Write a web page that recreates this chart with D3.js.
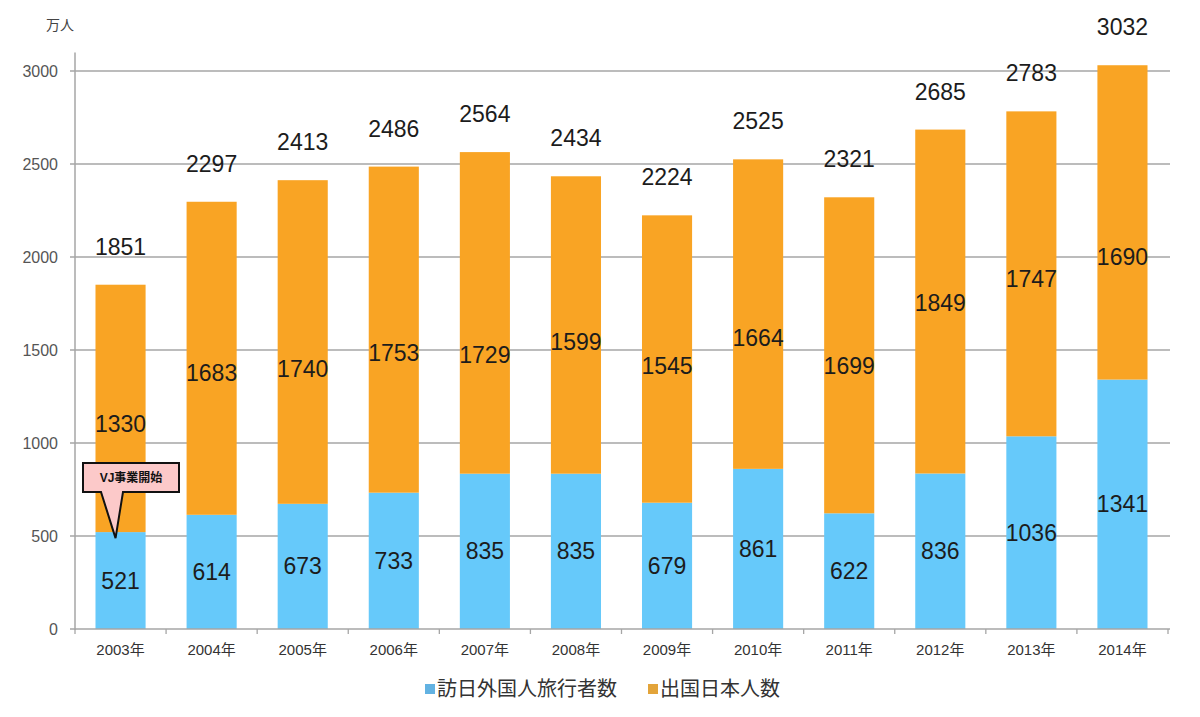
<!DOCTYPE html>
<html lang="ja">
<head>
<meta charset="utf-8">
<script src="https://cdn.jsdelivr.net/npm/d3@7/dist/d3.min.js"></script>
<style type="text/css">
body {
	margin: 0;
	background: #fff;
	font-family: "Liberation Sans", "Noto Sans CJK JP", sans-serif;
}
</style>
</head>
<body>
<script type="text/javascript">

// data
var years = ["2003年","2004年","2005年","2006年","2007年","2008年","2009年","2010年","2011年","2012年","2013年","2014年"];
var visitors = [521, 614, 673, 733, 835, 835, 679, 861, 622, 836, 1036, 1341];     // 訪日外国人旅行者数
var outbound = [1330, 1683, 1740, 1753, 1729, 1599, 1545, 1664, 1699, 1849, 1747, 1690]; // 出国日本人数
var totals = [1851, 2297, 2413, 2486, 2564, 2434, 2224, 2525, 2321, 2685, 2783, 3032];
var yTicks = [0, 500, 1000, 1500, 2000, 2500, 3000];
var seriesNames = ["訪日外国人旅行者数", "出国日本人数"];
// where the orange labels sit (value units, as in the picture)
var outLabelAt = [1102, 1376, 1398, 1484, 1473, 1543, 1414, 1565, 1414, 1753, 1882, 2000];

var width = 1200, height = 717;
var mLeft = 75, mRight = 1168, mTop = 71, mBottom = 629;

var blue = "#66c9fa", orange = "#f9a424";

var svg = d3.select("body").append("svg")
	.attr("width", width)
	.attr("height", height);

var x = d3.scaleBand().domain(years)
	.range([mLeft, mRight])
	.paddingInner(0.45)
	.paddingOuter(0.225);

var y = d3.scaleLinear().domain([0, 3000]).range([mBottom, mTop]);

// grid lines
svg.selectAll("line.grid")
	.data(yTicks.filter(function(d){ return d > 0; }))
	.enter().append("line")
	.attr("class", "grid")
	.attr("x1", mLeft - 5).attr("x2", mRight + 2)
	.attr("y1", function(d){ return y(d); })
	.attr("y2", function(d){ return y(d); })
	.style("stroke", "#a6a6a6")
	.style("stroke-width", 1.3);

// y tick labels
svg.selectAll("text.ytick")
	.data(yTicks)
	.enter().append("text")
	.attr("x", mLeft - 17)
	.attr("y", function(d){ return y(d); })
	.attr("dy", "0.35em")
	.attr("text-anchor", "end")
	.style("font-size", "16px")
	.style("fill", "#555")
	.text(function(d){ return d; });

// unit
svg.append("text")
	.attr("x", 60).attr("y", 25)
	.attr("dy", "0.35em")
	.attr("text-anchor", "middle")
	.style("font-size", "14px")
	.style("fill", "#444")
	.text("万人");

// bars
var g = svg.selectAll("g.bar")
	.data(years)
	.enter().append("g")
	.attr("class", "bar");

g.append("rect")
	.attr("x", function(d){ return x(d); })
	.attr("width", x.bandwidth())
	.attr("y", function(d, i){ return y(visitors[i]); })
	.attr("height", function(d, i){ return y(0) - y(visitors[i]); })
	.style("fill", blue);

g.append("rect")
	.attr("x", function(d){ return x(d); })
	.attr("width", x.bandwidth())
	.attr("y", function(d, i){ return y(visitors[i] + outbound[i]); })
	.attr("height", function(d, i){ return y(visitors[i]) - y(visitors[i] + outbound[i]); })
	.style("fill", orange);

// axes lines
svg.append("line")
	.attr("x1", mLeft).attr("x2", mLeft)
	.attr("y1", y(3100)).attr("y2", mBottom + 1)
	.style("stroke", "#a6a6a6").style("stroke-width", 1.5);
svg.append("line")
	.attr("x1", mLeft - 5).attr("x2", mRight + 2)
	.attr("y1", mBottom).attr("y2", mBottom)
	.style("stroke", "#a6a6a6").style("stroke-width", 1.5);

// x ticks at category boundaries
var step = x.step();
svg.selectAll("line.xtick")
	.data(d3.range(years.length + 1))
	.enter().append("line")
	.attr("x1", function(i){ return mLeft + i * step; })
	.attr("x2", function(i){ return mLeft + i * step; })
	.attr("y1", mBottom).attr("y2", mBottom + 5)
	.style("stroke", "#a6a6a6").style("stroke-width", 1.3);

// x labels
svg.selectAll("text.xlab")
	.data(years)
	.enter().append("text")
	.attr("x", function(d){ return x(d) + x.bandwidth() / 2; })
	.attr("y", 650)
	.attr("dy", "0.35em")
	.attr("text-anchor", "middle")
	.style("font-size", "15px")
	.style("fill", "#333")
	.text(function(d){ return d; });

// value labels
var numStyle = function(sel) {
	sel.attr("text-anchor", "middle")
		.attr("dy", "0.35em")
		.style("font-size", "23px")
		.style("fill", "#1c1c1c");
};

g.append("text")
	.attr("x", function(d){ return x(d) + x.bandwidth() / 2; })
	.attr("y", function(d, i){ return y(visitors[i] / 2); })
	.call(numStyle)
	.text(function(d, i){ return visitors[i]; });

g.append("text")
	.attr("x", function(d){ return x(d) + x.bandwidth() / 2; })
	.attr("y", function(d, i){ return y(outLabelAt[i]); })
	.call(numStyle)
	.text(function(d, i){ return outbound[i]; });

g.append("text")
	.attr("x", function(d){ return x(d) + x.bandwidth() / 2; })
	.attr("y", function(d, i){ return y(totals[i]) - 38; })
	.call(numStyle)
	.text(function(d, i){ return totals[i]; });

// callout "VJ事業開始"
var cx = x(years[0]) + x.bandwidth() / 2 - 5;
var call = svg.append("g");
call.append("path")
	.attr("d", "M83,463 H179 V492 H123 L" + cx + "," + (y(visitors[0]) + 6) + " L101,492 H83 Z")
	.style("fill", "#fcc9c9")
	.style("stroke", "#111")
	.style("stroke-width", 2)
	.style("stroke-linejoin", "miter");
call.append("text")
	.attr("x", 131).attr("y", 478)
	.attr("dy", "0.35em")
	.attr("text-anchor", "middle")
	.style("font-size", "12px")
	.style("font-weight", "bold")
	.style("fill", "#111")
	.text("VJ事業開始");

// legend
var legend = svg.append("g");
var legX = [425, 648];
var legC = ["#62b2e2", "#e3a43a"];
seriesNames.forEach(function(name, i) {
	legend.append("rect")
		.attr("x", legX[i]).attr("y", 684)
		.attr("width", 10).attr("height", 10)
		.style("fill", legC[i]);
	legend.append("text")
		.attr("x", legX[i] + 12).attr("y", 689)
		.attr("dy", "0.35em")
		.style("font-size", "20px")
		.style("fill", "#333")
		.text(name);
});

</script>
</body>
</html>
